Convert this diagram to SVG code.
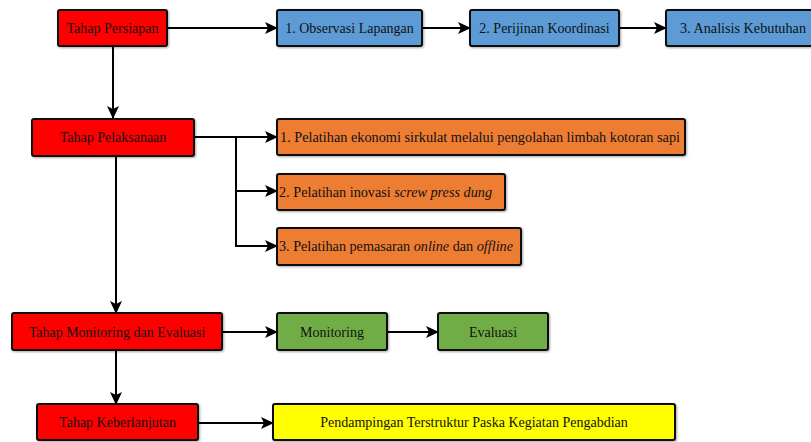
<svg xmlns="http://www.w3.org/2000/svg" width="811" height="442" viewBox="0 0 811 442">
<style>
.box{stroke:#111;stroke-width:2;}
.red{fill:#FF0000}.blue{fill:#5B9BD5}.orange{fill:#ED7D31}.green{fill:#70AD47}.yellow{fill:#FFFF00}
text{font-family:"Liberation Serif","Times New Roman",serif;font-size:14px;fill:#111;dominant-baseline:central}
.c{text-anchor:middle}
.conn{stroke:#000;stroke-width:2;fill:none}
</style>
<defs>
<marker id="ah" markerUnits="userSpaceOnUse" markerWidth="14" markerHeight="12" refX="12" refY="6" orient="auto">
<path d="M0,0 L13,6 L0,12 L3,6 z" fill="#000"/>
</marker>
<filter id="sh" x="-5%" y="-10%" width="110%" height="130%"><feDropShadow dx="1" dy="1" stdDeviation="0.8" flood-color="#000" flood-opacity="0.35"/></filter>
</defs>
<g id="connectors">
<line class="conn" x1="167" y1="28" x2="277" y2="28" marker-end="url(#ah)"/>
<line class="conn" x1="422" y1="28" x2="470" y2="28" marker-end="url(#ah)"/>
<line class="conn" x1="619" y1="28" x2="666" y2="28" marker-end="url(#ah)"/>
<line class="conn" x1="113" y1="46" x2="113" y2="118" marker-end="url(#ah)"/>
<line class="conn" x1="194" y1="137" x2="277" y2="137" marker-end="url(#ah)"/>
<path class="conn" d="M236,137 V191 H277" marker-end="url(#ah)"/>
<path class="conn" d="M236,191 V246 H277" marker-end="url(#ah)"/>
<line class="conn" x1="116" y1="156" x2="116" y2="313" marker-end="url(#ah)"/>
<line class="conn" x1="222" y1="332" x2="277" y2="332" marker-end="url(#ah)"/>
<line class="conn" x1="387" y1="332" x2="438" y2="332" marker-end="url(#ah)"/>
<line class="conn" x1="116" y1="350" x2="116" y2="404" marker-end="url(#ah)"/>
<line class="conn" x1="198" y1="423" x2="273" y2="423" marker-end="url(#ah)"/>
</g>
<g id="persiapan"><rect class="box red" x="58" y="10" width="109" height="36" rx="2" filter="url(#sh)"/><text class="c" x="112.5" y="28">Tahap Persiapan</text></g>
<g id="observasi"><rect class="box blue" x="277" y="10" width="145" height="36" rx="2" filter="url(#sh)"/><text class="c" x="349.5" y="28">1. Observasi Lapangan</text></g>
<g id="perijinan"><rect class="box blue" x="470" y="10" width="149" height="36" rx="2" filter="url(#sh)"/><text class="c" x="544.5" y="28">2. Perijinan Koordinasi</text></g>
<g id="analisis"><rect class="box blue" x="666" y="10" width="152" height="36" rx="2" filter="url(#sh)"/><text x="680" y="28" textLength="126" lengthAdjust="spacingAndGlyphs">3. Analisis Kebutuhan</text></g>
<g id="pelaksanaan"><rect class="box red" x="32" y="119" width="162" height="37" rx="2" filter="url(#sh)"/><text class="c" x="113" y="137">Tahap Pelaksanaan</text></g>
<g id="pelatihan1"><rect class="box orange" x="277" y="119" width="408" height="36" rx="2" filter="url(#sh)"/><text x="280" y="137" textLength="400" lengthAdjust="spacingAndGlyphs">1. Pelatihan ekonomi sirkulat melalui pengolahan limbah kotoran sapi</text></g>
<g id="pelatihan2"><rect class="box orange" x="277" y="174" width="228" height="36" rx="2" filter="url(#sh)"/><text x="279" y="192" textLength="213" lengthAdjust="spacingAndGlyphs">2. Pelatihan inovasi <tspan font-style="italic">screw press dung</tspan></text></g>
<g id="pelatihan3"><rect class="box orange" x="277" y="228" width="244" height="37" rx="2" filter="url(#sh)"/><text x="279" y="246" textLength="234" lengthAdjust="spacingAndGlyphs">3. Pelatihan pemasaran <tspan font-style="italic">online</tspan> dan <tspan font-style="italic">offline</tspan></text></g>
<g id="monev"><rect class="box red" x="12" y="313" width="210" height="37" rx="2" filter="url(#sh)"/><text class="c" x="117" y="332">Tahap Monitoring dan Evaluasi</text></g>
<g id="monitoring"><rect class="box green" x="277" y="313" width="110" height="37" rx="2" filter="url(#sh)"/><text class="c" x="332" y="332">Monitoring</text></g>
<g id="evaluasi"><rect class="box green" x="438" y="313" width="110" height="37" rx="2" filter="url(#sh)"/><text class="c" x="493" y="332">Evaluasi</text></g>
<g id="keberlanjutan"><rect class="box red" x="37" y="404" width="161" height="36" rx="2" filter="url(#sh)"/><text class="c" x="117.5" y="422">Tahap Keberlanjutan</text></g>
<g id="pendampingan"><rect class="box yellow" x="273" y="404" width="402" height="36" rx="2" filter="url(#sh)"/><text class="c" x="474" y="422">Pendampingan Terstruktur Paska Kegiatan Pengabdian</text></g>
</svg>
